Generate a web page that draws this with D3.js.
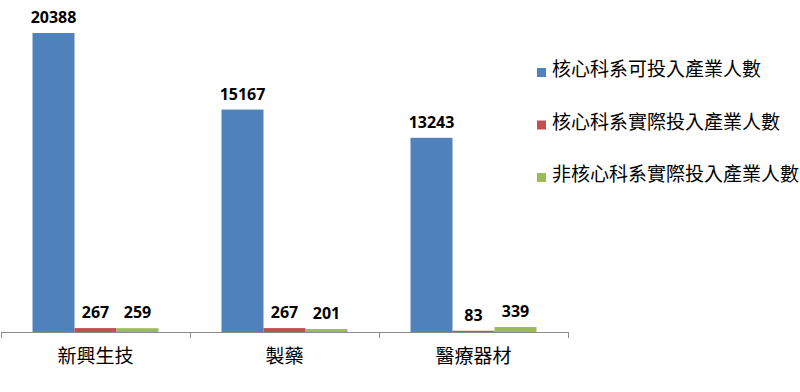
<!DOCTYPE html>
<html>
<head>
<meta charset="utf-8">
<script src="https://d3js.org/d3.v7.min.js"></script>
<style>
  body { margin: 0; background: #fff; }
  svg { display: block; }
</style>
</head>
<body>
<svg id="chart" width="800" height="392"></svg>
<script>
// data
var categories = ["新興生技", "製藥", "醫療器材"]
var seriesNames = ["核心科系可投入產業人數", "核心科系實際投入產業人數", "非核心科系實際投入產業人數"]
var coreAvailable = [20388, 15167, 13243]
var coreActual = [267, 267, 83]
var nonCoreActual = [259, 201, 339]
var seriesColors = ["#4F81BD", "#C0504D", "#9BBB59"]

var seriesValues = [coreAvailable, coreActual, nonCoreActual]
var rows = []
categories.forEach(function (cat, i) {
    seriesNames.forEach(function (s, j) {
        rows.push({ cat: cat, series: s, value: seriesValues[j][i], color: seriesColors[j] })
    })
})

var svg = d3.select("#chart")
var baseY = 332

var x = d3.scaleBand().domain(categories).range([1, 568]).padding(0)
var bw = x.bandwidth()
var x1 = d3.scaleBand().domain(seriesNames).range([bw / 6, bw * 5 / 6]).padding(0)
var y = d3.scaleLinear().domain([0, 22640]).range([baseY, 0])

// category axis
var axis = svg.append("g").attr("transform", "translate(0," + baseY + ")")
axis.append("line")
    .attr("x1", x.range()[0]).attr("x2", x.range()[1])
    .attr("stroke", "#8c8c8c").attr("stroke-width", 1).attr("shape-rendering", "crispEdges")
var bounds = categories.map(function (c) { return x(c) }).concat([x.range()[1]])
axis.selectAll(".tk").data(bounds).enter().append("line")
    .attr("x1", function (d) { return d }).attr("x2", function (d) { return d })
    .attr("y1", 0).attr("y2", 6)
    .attr("stroke", "#8c8c8c").attr("shape-rendering", "crispEdges")
axis.selectAll(".cat").data(categories).enter().append("text")
    .attr("x", function (d) { return x(d) + bw / 2 })
    .attr("y", 31)
    .attr("text-anchor", "middle")
    .style("font-family", "'Noto Sans CJK TC'")
    .style("font-size", "19px")
    .attr("fill", "#000")
    .text(function (d) { return d })

// bars
svg.append("g").selectAll("rect").data(rows).enter().append("rect")
    .attr("x", function (d) { return x(d.cat) + x1(d.series) })
    .attr("y", function (d) { return y(d.value) })
    .attr("width", x1.bandwidth())
    .attr("height", function (d) { return baseY - y(d.value) })
    .attr("fill", function (d) { return d.color })

// value labels
svg.append("g").selectAll("text").data(rows).enter().append("text")
    .attr("x", function (d) { return x(d.cat) + x1(d.series) + x1.bandwidth() / 2 })
    .attr("y", function (d) { return y(d.value) - 10 })
    .attr("text-anchor", "middle")
    .style("font-family", "'Open Sans'")
    .style("font-weight", "700")
    .style("font-size", "16px")
    .attr("fill", "#000")
    .text(function (d) { return d.value })

// legend
var legend = svg.append("g").attr("transform", "translate(537,0)")
var item = legend.selectAll("g").data(seriesNames).enter().append("g")
    .attr("transform", function (d, i) { return "translate(0," + (77 + i * 52.5) + ")" })
item.append("rect")
    .attr("x", 0).attr("y", -9).attr("width", 9).attr("height", 9)
    .attr("fill", function (d, i) { return seriesColors[i] })
item.append("text")
    .attr("x", 15).attr("y", -1)
    .style("font-family", "'Noto Sans CJK TC'")
    .style("font-size", "19px")
    .attr("fill", "#000")
    .text(function (d) { return d })
</script>
</body>
</html>
